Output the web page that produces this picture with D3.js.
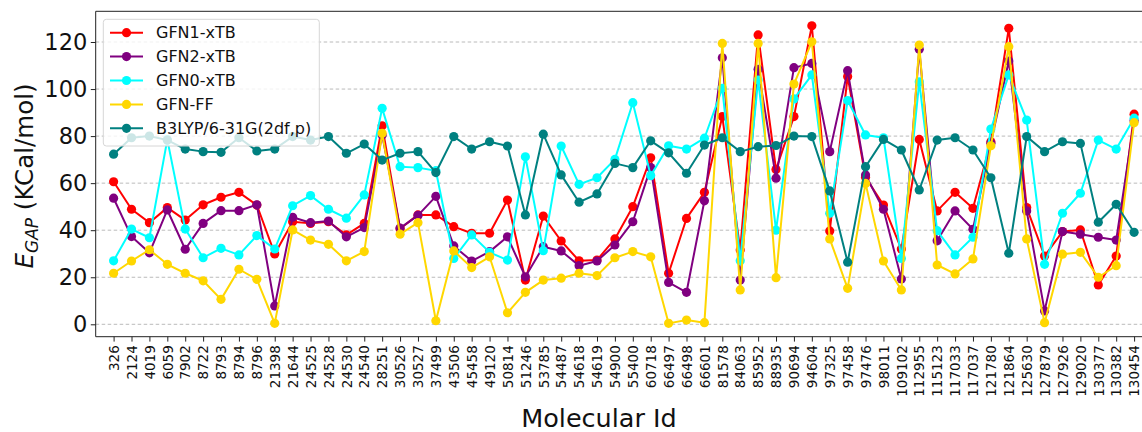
<!DOCTYPE html>
<html>
<head>
<meta charset="utf-8">
<script src="https://cdn.jsdelivr.net/npm/d3@7/dist/d3.min.js"></script>
<style>
  html, body { margin: 0; padding: 0; background: #fff; }
  svg { display: block; font-family: "DejaVu Sans", sans-serif; }
</style>
</head>
<body>
<svg id="chart" width="1142" height="432"></svg>
<script>
// Molecule ids along the x axis
const molecules = ["326","2124","4019","6059","7902","8722","8793","8794","8796","21398",
  "21644","24525","24528","24530","24540","28251","30526","30527","37499","43506",
  "45458","49120","50814","51246","53785","54487","54618","54619","54900","55400",
  "60718","66497","66498","66601","81578","84063","85952","88935","90694","94604",
  "97325","97458","97476","98011","109102","112955","115123","117033","117037","121780",
  "121864","125630","127879","127926","129020","130377","130382","130454"];

// HOMO-LUMO gap (kcal/mol) per method
const gfn1 = [60.6,48.9,43.2,49.6,44.3,50.8,54.0,56.1,50.7,29.9,
  43.6,42.9,43.6,38.0,42.9,84.4,40.6,46.5,46.5,41.5,
  38.7,38.7,52.8,18.8,46.0,35.4,27.0,27.3,36.3,50.0,
  70.8,21.7,45.0,56.1,88.3,31.6,123.0,65.8,88.3,126.9,
  39.7,105.3,62.5,50.7,32.0,78.6,48.2,56.1,49.3,77.6,
  125.8,49.6,29.0,39.4,40.1,16.7,29.0,89.3];

const gfn2 = [53.6,37.3,30.4,48.6,31.9,42.9,48.3,48.3,50.8,7.8,
  45.5,43.2,43.9,37.2,41.1,80.5,40.9,46.3,54.4,33.3,
  26.9,30.9,37.2,20.2,33.0,31.2,24.9,26.9,33.7,43.6,
  66.6,17.8,13.6,52.5,113.3,18.8,108.4,62.1,109.1,110.9,
  73.4,107.8,63.5,48.9,19.3,116.9,35.5,48.2,40.4,77.0,
  111.9,48.2,5.7,39.4,38.3,37.0,35.8,86.5];

const gfn0 = [27.0,40.5,36.8,78.5,40.5,28.3,32.3,29.5,37.7,32.0,
  50.4,54.7,48.9,45.1,55.0,91.8,67.0,66.6,65.3,28.0,
  38.0,30.6,27.3,71.2,31.3,75.8,59.5,62.3,70.1,94.2,
  63.2,75.9,74.5,79.1,100.3,27.0,103.8,40.0,95.8,106.0,
  47.2,95.1,80.5,79.3,28.0,103.1,39.8,29.5,37.0,83.0,
  106.0,86.8,25.5,47.2,55.7,78.3,74.5,87.6];

const gfnff = [21.7,26.9,31.7,25.5,21.7,18.5,10.6,23.4,19.1,0.4,
  40.1,35.8,34.0,27.0,30.9,81.2,38.3,43.2,1.5,31.2,
  24.1,28.7,4.9,13.6,18.8,19.6,21.7,20.7,28.3,30.9,
  28.7,0.4,1.8,0.7,119.4,14.6,119.4,19.8,102.1,120.1,
  36.3,15.3,59.9,26.9,14.6,118.7,25.2,21.4,27.8,75.9,
  118.0,36.3,0.7,29.8,30.6,20.0,24.9,85.7];

const b3lyp = [72.3,79.3,80.0,78.3,74.5,73.4,73.1,79.3,73.7,74.5,
  79.8,78.3,79.8,72.7,76.6,69.8,72.7,73.4,64.5,79.8,
  74.5,77.6,75.8,46.5,80.8,63.5,51.9,55.4,68.4,66.6,
  78.0,72.9,64.2,76.2,79.3,73.4,75.5,76.0,80.0,79.8,
  56.7,26.4,67.0,78.6,74.1,57.1,78.3,79.3,74.1,62.3,
  30.2,79.8,73.4,77.6,76.9,43.4,51.0,39.1];

const seriesNames = ["GFN1-xTB","GFN2-xTB","GFN0-xTB","GFN-FF","B3LYP/6-31G(2df,p)"];
const seriesValues = [gfn1, gfn2, gfn0, gfnff, b3lyp];
const seriesColors = ["#ff0000","#800080","#00ffff","#ffd700","#008080"];
const yTicks = [0,20,40,60,80,100,120];

const svg = d3.select("#chart");
const plot = {left: 95.7, top: 11.3, right: 1152, bottom: 336.7};

// one step per molecule, with a full step of padding on both sides
const x = d3.scalePoint()
  .domain(molecules)
  .range([plot.left, plot.right])
  .padding(1);

const y = d3.scaleLinear()
  .domain([-5.27, 133.05])
  .range([plot.bottom, plot.top]);

// horizontal dashed grid
svg.append("g")
  .selectAll("line")
  .data(yTicks)
  .join("line")
  .attr("x1", plot.left).attr("x2", plot.right)
  .attr("y1", d => y(d)).attr("y2", d => y(d))
  .attr("stroke", "#b0b0b0")
  .attr("stroke-width", 1)
  .attr("stroke-dasharray", "3.5,2.5")
  .attr("opacity", 0.85);

// series: line plus markers, drawn in legend order
const lineGen = (vals) => d3.line()
  .x((d, i) => x(molecules[i]))
  .y(d => y(d))(vals);

seriesValues.forEach((vals, k) => {
  const g = svg.append("g");
  g.append("path")
    .attr("d", lineGen(vals))
    .attr("fill", "none")
    .attr("stroke", seriesColors[k])
    .attr("stroke-width", 2)
    .attr("stroke-linejoin", "round");
  g.selectAll("circle")
    .data(vals)
    .join("circle")
    .attr("cx", (d, i) => x(molecules[i]))
    .attr("cy", d => y(d))
    .attr("r", 4.6)
    .attr("fill", seriesColors[k]);
});

// axes
const yAxis = d3.axisLeft(y).tickValues(yTicks).tickSize(4.9).tickPadding(3.5);
const gy = svg.append("g")
  .attr("transform", `translate(${plot.left},0)`)
  .call(yAxis);
gy.select(".domain").attr("d", `M0,${plot.top}V${plot.bottom}`).attr("stroke", "#222").attr("stroke-width", 1);
gy.selectAll(".tick line").attr("stroke", "#222");
gy.selectAll(".tick text")
  .attr("font-size", 22.5)
  .attr("fill", "#111")
  .attr("font-family", "DejaVu Sans, sans-serif");

const xAxis = d3.axisBottom(x).tickSize(4.9).tickPadding(3.5);
const gx = svg.append("g")
  .attr("transform", `translate(0,${plot.bottom})`)
  .call(xAxis);
gx.select(".domain").attr("d", `M${plot.left},0H${plot.right}`).attr("stroke", "#222").attr("stroke-width", 1);
gx.selectAll(".tick line").attr("stroke", "#222");
gx.selectAll(".tick text")
  .attr("font-size", 13.5)
  .attr("fill", "#111")
  .attr("font-family", "DejaVu Sans, sans-serif")
  .attr("text-anchor", "end")
  .attr("dy", "0.35em")
  .attr("transform", "translate(0,8.5) rotate(-90)")
  .attr("x", 0)
  .attr("y", 0);

// top spine
svg.append("line")
  .attr("x1", plot.left).attr("x2", plot.right)
  .attr("y1", plot.top).attr("y2", plot.top)
  .attr("stroke", "#222").attr("stroke-width", 1);

// axis titles
svg.append("text")
  .attr("x", 599).attr("y", 427)
  .attr("text-anchor", "middle")
  .attr("font-size", 25.5)
  .attr("fill", "#111")
  .text("Molecular Id");

const yl = svg.append("text")
  .attr("transform", `translate(33,${(plot.top + plot.bottom) / 2 + 2}) rotate(-90)`)
  .attr("text-anchor", "middle")
  .attr("font-size", 24.5)
  .attr("fill", "#111");
yl.append("tspan").attr("font-style", "italic").text("E");
yl.append("tspan").attr("font-style", "italic").attr("font-size", 17).attr("dy", 5).text("GAP");
yl.append("tspan").attr("dy", -5).text(" (KCal/mol)");

// legend
const lg = svg.append("g");
lg.append("rect")
  .attr("x", 103.3).attr("y", 19.3)
  .attr("width", 216).attr("height", 126.7)
  .attr("rx", 3)
  .attr("fill", "#fff").attr("fill-opacity", 0.8)
  .attr("stroke", "#d6d6d6").attr("stroke-width", 1);
seriesNames.forEach((name, k) => {
  const cy = 32.7 + k * 23.9;
  lg.append("line")
    .attr("x1", 110).attr("x2", 143)
    .attr("y1", cy).attr("y2", cy)
    .attr("stroke", seriesColors[k]).attr("stroke-width", 2);
  lg.append("circle")
    .attr("cx", 126.5).attr("cy", cy).attr("r", 4.6)
    .attr("fill", seriesColors[k]);
  lg.append("text")
    .attr("x", 156).attr("y", cy).attr("dy", "0.36em")
    .attr("font-size", 16)
    .attr("fill", "#111")
    .text(name);
});
</script>
</body>
</html>
